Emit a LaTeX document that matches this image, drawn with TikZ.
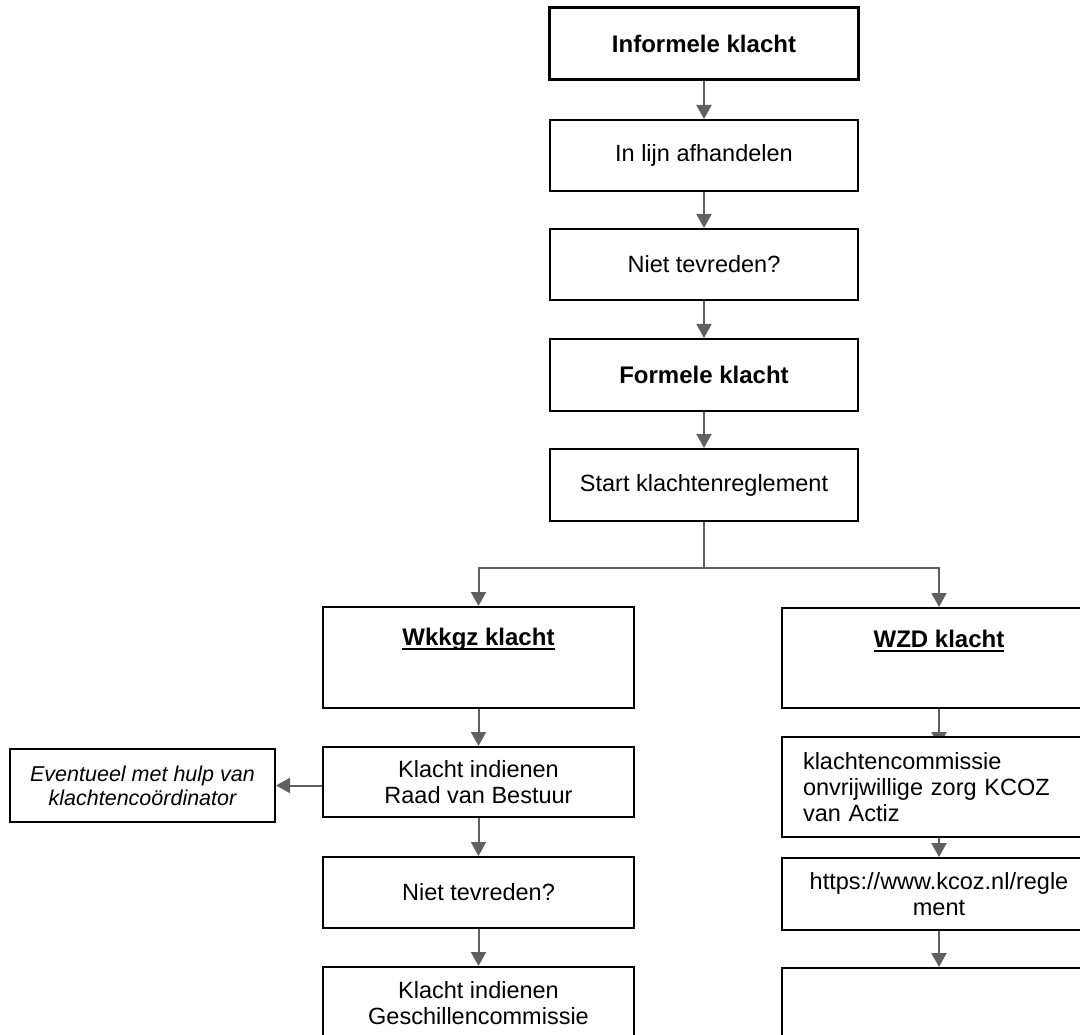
\documentclass[tikz,border=0pt]{standalone}
\usepackage{fontspec}
\setmainfont{Liberation Sans}
\usetikzlibrary{arrows.meta,backgrounds}
\definecolor{arrowgray}{HTML}{606060}
\newcommand{\ulbold}[1]{\setbox0\hbox{#1}\rlap{\rule[-4pt]{\wd0}{2pt}}\box0}
\begin{document}
\begin{tikzpicture}[x=1pt,y=-1pt,
  box/.style={draw=black, line width=2pt, fill=white, align=center, inner sep=0pt,
    font=\fontsize{23.5}{26}\selectfont},
  boldtxt/.style={font=\bfseries\fontsize{24}{28}\selectfont},
  arr/.style={draw=arrowgray, line width=2pt, -{Triangle[width=15pt,length=14pt]}},
  conn/.style={draw=arrowgray, line width=2pt}]
\useasboundingbox (0,0) rectangle (1080,1035);
\clip (0,0) rectangle (1080,1035);

% main column
\node[box, boldtxt, line width=3pt, minimum width=309, minimum height=72] (inf) at (704,44) {Informele klacht};
\node[box, minimum width=308, minimum height=71] (lijn) at (704,155.5) {In lijn afhandelen};
\node[box, minimum width=308, minimum height=71] (niet1) at (704,264.5) {Niet tevreden?};
\node[box, boldtxt, minimum width=308, minimum height=72] (form) at (704,375) {Formele klacht};
\node[box, minimum width=308, minimum height=72] (start) at (704,485) {Start klachtenreglement};

% left column
\node[box, minimum width=311, minimum height=101,
  label={[anchor=north, yshift=-22pt, inner sep=0pt, boldtxt]north:\ulbold{Wkkgz klacht}}] (wkkgz) at (478.5,657.5) {};
\node[box, minimum width=311, minimum height=70] (klacht1) at (478.5,782) {Klacht indienen\\Raad van Bestuur};
\node[box, minimum width=265, minimum height=73, font=\itshape\fontsize{21.5}{24}\selectfont] (ev) at (142.5,785.5) {Eventueel met hulp van\\klachtencoördinator};
\node[box, minimum width=311, minimum height=71] (niet2) at (478.5,892.5) {Niet tevreden?};
\node[box, minimum width=311, minimum height=72] (gesch) at (478.5,1003) {Klacht indienen\\Geschillencommissie};

% right column
\node[box, minimum width=314, minimum height=100,
  label={[anchor=north, yshift=-23pt, inner sep=0pt, boldtxt]north:\ulbold{WZD klacht}}] (wzd) at (939,658) {};
\node[box, minimum height=100, text width=272, inner xsep=21pt, align=left] (klcom) at (939,787) {klachtencommissie\\onvrijwillige zorg KCOZ\\van Actiz};
\node[box, minimum width=314, minimum height=72] (https) at (939,894) {https://www.kcoz.nl/regle\\ment};
\node[box, minimum width=314, minimum height=72] (last) at (939,1004) {};

% connectors
\draw[arr] (inf) -- (lijn);
\draw[arr] (lijn) -- (niet1);
\draw[arr] (niet1) -- (form);
\draw[arr] (form) -- (start);
\coordinate (split) at (704,568);
\draw[conn] (start.south) -- (split);
\draw[arr] (split) -| (wkkgz.north);
\draw[arr] (split) -| (wzd.north);
\draw[arr] (wkkgz) -- (klacht1);
\draw[arr] (klacht1.west |- ev.east) -- (ev.east);
\draw[arr] (klacht1) -- (niet2);
\draw[arr] (niet2) -- (gesch);
\begin{scope}[on background layer]
\draw[arr] (wzd.south) -- ([yshift=-10pt]klcom.north);
\end{scope}
\draw[arr] (klcom) -- (https);
\draw[arr] (https) -- (last);
\end{tikzpicture}
\end{document}
